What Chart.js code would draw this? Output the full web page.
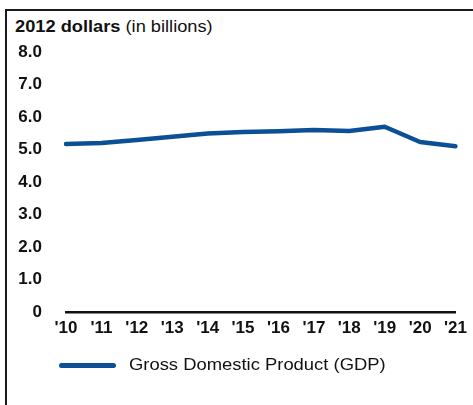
<!DOCTYPE html>
<html>
<head>
<meta charset="utf-8">
<script src="https://cdn.jsdelivr.net/npm/chart.js@4/dist/chart.umd.min.js"></script>
<style>
  html, body { margin: 0; padding: 0; background: #fff; }
  #wrap { position: relative; width: 473px; height: 405px; overflow: hidden; font-family: "Liberation Sans", Arial, sans-serif; color: #111; }
  #frame { position: absolute; left: 5px; top: 9px; width: 470px; height: 400px; border-left: 2px solid #1a1a1a; border-top: 2px solid #1a1a1a; box-sizing: border-box; }
  #title { position: absolute; left: 15px; top: 17px; font-size: 16px; line-height: 20px; white-space: nowrap; transform: scaleX(1.14); transform-origin: left top; }
  #title b { font-weight: bold; }
  #legend { position: absolute; left: 59px; top: 354px; height: 22px; display: flex; align-items: center; white-space: nowrap; }
  #legend .swatch { width: 57px; height: 5px; border-radius: 3px; background: #0b5096; }
  #legend .label { margin-left: 13px; font-size: 16px; transform: scaleX(1.15); transform-origin: left center; }
  canvas { position: absolute; left: 0; top: 0; }
</style>
</head>
<body>
<div id="wrap">
  <div id="frame"></div>
  <div id="title"><b>2012 dollars</b> (in billions)</div>
  <canvas id="c" width="473" height="405"></canvas>
  <div id="legend"><span class="swatch"></span><span class="label" id="legendLabel"></span></div>
</div>
<script>
// Real GDP, 2012 dollars (billions)
const years = ["'10", "'11", "'12", "'13", "'14", "'15", "'16", "'17", "'18", "'19", "'20", "'21"];
const gdp = [5.17, 5.20, 5.29, 5.39, 5.49, 5.54, 5.56, 5.60, 5.57, 5.70, 5.23, 5.10];
const seriesName = "Gross Domestic Product (GDP)";
const yTicks = [0, 1, 2, 3, 4, 5, 6, 7, 8];

document.getElementById('legendLabel').textContent = seriesName;

const lineColor = '#0b5096';
const tickFont = { family: '"Liberation Sans", Arial, sans-serif', size: 17, weight: 'bold' };

new Chart(document.getElementById('c'), {
  type: 'line',
  data: {
    labels: years,
    datasets: [{
      label: seriesName,
      data: gdp,
      borderColor: lineColor,
      backgroundColor: lineColor,
      borderWidth: 4.5,
      borderCapStyle: 'round',
      borderJoinStyle: 'round',
      tension: 0,
      pointRadius: 0,
      pointHoverRadius: 0,
      fill: false
    }]
  },
  options: {
    responsive: false,
    animation: false,
    events: [],
    layout: { padding: { left: 15, right: 14, top: 52, bottom: 67 } },
    plugins: { legend: { display: false }, tooltip: { enabled: false }, title: { display: false } },
    scales: {
      x: {
        offset: false,
        grid: { display: false, drawTicks: false },
        border: { display: true, color: '#111', width: 2.5 },
        ticks: { color: '#111', font: tickFont, padding: 6, maxRotation: 0, autoSkip: false },
        afterFit: (s) => { s.height = 26; }
      },
      y: {
        min: 0,
        max: 8,
        afterBuildTicks: (scale) => { scale.ticks = yTicks.map(v => ({ value: v })); },
        grid: { display: false, drawTicks: false },
        border: { display: false },
        ticks: {
          color: '#111',
          font: tickFont,
          padding: 24,
          callback: (v) => v === 0 ? '0' : Number(v).toFixed(1)
        },
        afterFit: (s) => { s.width = 51; }
      }
    }
  }
});
</script>
</body>
</html>
